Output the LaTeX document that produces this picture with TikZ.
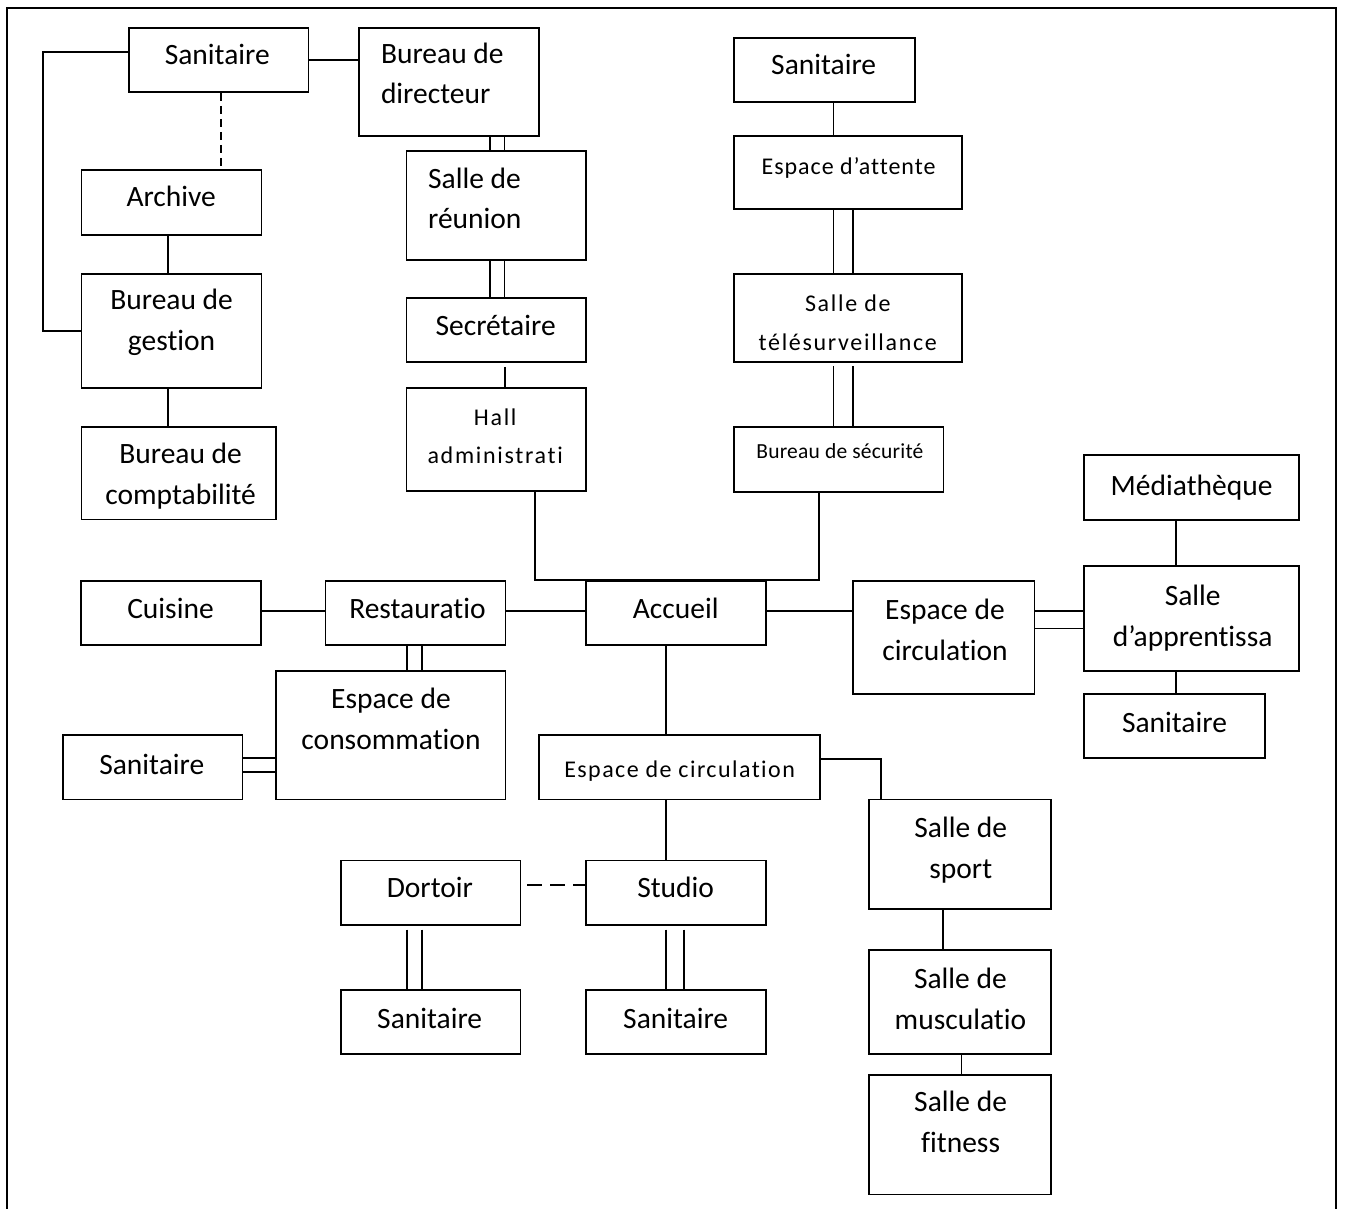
\documentclass[tikz,border=0pt]{standalone}
\usepackage{fontspec}
\setmainfont{Carlito}[Ligatures=NoCommon]
\usetikzlibrary{fit}
\newcommand\room[5]{\coordinate (#1-a) at (#2,#3); \coordinate (#1-b) at (#4,#5); \node[box, fit=(#1-a)(#1-b)] (#1) {};}
\begin{document}
\begin{tikzpicture}[x=1pt,y=-1pt,
  box/.style={draw, line width=1.8pt, inner sep=0pt},
  ln/.style={line width=1.8pt},
  txt/.style={inner sep=0pt, align=center, anchor=base, font=\fontsize{29.5}{41}\selectfont},
  ltxt/.style={inner sep=0pt, align=left, anchor=base west, font=\fontsize{29.5}{40}\selectfont},
  stxt/.style={inner sep=0pt, align=center, anchor=base, font=\fontsize{24}{37.5}\selectfont\addfontfeatures{LetterSpace=#1}}]
\useasboundingbox (0,0) rectangle (1345,1209);
\draw[line width=1.6pt] (7,1212) -- (7,8) -- (1336,8) -- (1336,1212);
% boxes
\room{san1}{128.6}{27.7}{308.4}{92}
\room{bdir}{359}{27.7}{538.8}{136}
\room{archive}{81.5}{170}{261.4}{235}
\room{gestion}{81.5}{274}{261.4}{387.7}
\room{compta}{81.5}{426.7}{276.3}{519.5}
\room{reunion}{406.4}{151.3}{585.9}{259.7}
\room{secretaire}{406.4}{297.7}{585.9}{362}
\room{hall}{406.4}{387.7}{585.9}{491}
\room{san2}{734}{37.7}{914.8}{101.7}
\room{attente}{734}{136.3}{961.7}{209.3}
\room{tele}{734}{274}{961.7}{362}
\room{securite}{734}{426.7}{943.5}{491.7}
\room{media}{1084}{455}{1298.6}{520}
\room{cuisine}{81.3}{581}{261.2}{645.2}
\room{resto}{325.4}{581}{505.4}{645.2}
\room{accueil}{585.7}{581}{765.6}{645.2}
\room{circr}{853}{581}{1034.4}{694}
\room{appr}{1084.2}{566.1}{1298.8}{670.7}
\room{san3}{1084.2}{694}{1265.1}{758.1}
\room{conso}{275.9}{670.7}{505.4}{799.4}
\room{san4}{62.9}{735.3}{242.4}{799.4}
\room{circb}{538.8}{735.3}{820.3}{799.4}
\room{sport}{869.3}{799.4}{1050.6}{908.8}
\room{dortoir}{341}{860.5}{520.5}{924.7}
\room{studio}{585.7}{860.5}{765.6}{924.7}
\room{san5}{341}{989.7}{520.5}{1054.3}
\room{san6}{585.7}{989.7}{765.6}{1054.3}
\room{musc}{869.3}{950.1}{1050.6}{1054.3}
\room{fitness}{869.3}{1074.9}{1050.6}{1194.4}
% texts (anchor=base is the baseline of the last line)
\node[txt] (san1-t) at (217.3,65) {Sanitaire};
\node[ltxt] (bdir-t) at (380.8,104) {Bureau de\\directeur};
\node[txt] (archive-t) at (171.2,206.7) {Archive};
\node[txt] (gestion-t) at (171.6,350.7) {Bureau de\\gestion};
\node[txt] (compta-t) at (180.6,504.3) {Bureau de\\comptabilité};
\node[ltxt] (reunion-t) at (427.9,228.3) {Salle de\\réunion};
\node[txt] (secretaire-t) at (495.6,335) {Secrétaire};
\node[stxt=7] (hall-t) at (495.2,463.3) {Hall\\administrati};
\node[txt] (san2-t) at (823.7,75) {Sanitaire};
\node[stxt=4] (attente-t) at (848.6,175) {Espace d’attente};
\node[stxt=7, font=\fontsize{24}{38.5}\selectfont\addfontfeatures{LetterSpace=7}] (tele-t) at (847.8,350) {Salle de\\télésurveillance};
\node[inner sep=0pt, anchor=base, font=\fontsize{21.5}{25}\selectfont\addfontfeatures{LetterSpace=1}] (securite-t) at (839.9,458.3) {Bureau de sécurité};
\node[txt] (media-t) at (1191.6,495) {Médiathèque};
\node[txt] (cuisine-t) at (170.5,618.9) {Cuisine};
\node[txt] (resto-t) at (417.4,618.9) {Restauratio};
\node[txt] (accueil-t) at (675.7,618.9) {Accueil};
\node[txt] (circr-t) at (945,660.6) {Espace de\\circulation};
\node[txt] (appr-t) at (1192.7,646.1) {Salle\\d’apprentissa};
\node[txt] (san3-t) at (1174.5,732.2) {Sanitaire};
\node[txt] (conso-t) at (391,749.8) {Espace de\\consommation};
\node[txt] (san4-t) at (151.8,774) {Sanitaire};
\node[stxt=6] (circb-t) at (679.6,777) {Espace de circulation};
\node[txt] (sport-t) at (960.8,878.1) {Salle de\\sport};
\node[txt] (dortoir-t) at (429.9,897.9) {Dortoir};
\node[txt] (studio-t) at (675.7,897.9) {Studio};
\node[txt] (san5-t) at (429.7,1028.4) {Sanitaire};
\node[txt] (san6-t) at (675.7,1028.4) {Sanitaire};
\node[txt] (musc-t) at (960.4,1029.7) {Salle de\\musculatio};
\node[txt] (fitness-t) at (960.6,1152.7) {Salle de\\fitness};
% connectors
\draw[ln] (san1.east) -- (san1.east -| bdir.west);
\draw[ln] (san1.west |- 0,52) -- (43,52) |- (gestion.west |- 0,331);
\draw[ln, dash pattern=on 8pt off 5pt] (san1.south -| 221,0) -- (archive.north -| 221,0);
\draw[ln] (archive.south -| 168,0) -- (gestion.north -| 168,0);
\draw[ln] (gestion.south -| 168,0) -- (compta.north -| 168,0);
\foreach \x in {490,504.5} {
  \draw[ln] (bdir.south -| \x,0) -- (reunion.north -| \x,0);
  \draw[ln] (reunion.south -| \x,0) -- (secretaire.north -| \x,0);}
\draw[ln] ([yshift=-4pt]secretaire.south -| 505,0) -- (hall.north -| 505,0);
\draw[ln] (hall.south -| 535,0) -- (accueil.north -| 535,0) -- (accueil.north -| 819,0) -- (securite.south -| 819,0);
\draw[ln] (san2.south -| 833.5,0) -- (attente.north -| 833.5,0);
\foreach \x in {833.5,852.6} {
  \draw[ln] (attente.south -| \x,0) -- (tele.north -| \x,0);
  \draw[ln] ([yshift=-3.5pt]tele.south -| \x,0) -- (securite.north -| \x,0);}
\draw[ln] (cuisine.east |- 0,611) -- (resto.west |- 0,611);
\draw[ln] (resto.east |- 0,611) -- (accueil.west |- 0,611);
\draw[ln] (accueil.east |- 0,611) -- (circr.west |- 0,611);
\foreach \y in {611,628.5} \draw[ln] (circr.east |- 0,\y) -- (appr.west |- 0,\y);
\draw[ln] (media.south -| 1176,0) -- (appr.north -| 1176,0);
\draw[ln] (appr.south -| 1176,0) -- (san3.north -| 1176,0);
\foreach \x in {406.7,422} \draw[ln] (resto.south -| \x,0) -- (conso.north -| \x,0);
\foreach \y in {758,772} \draw[ln] (san4.east |- 0,\y) -- (conso.west |- 0,\y);
\draw[ln] (accueil.south -| 666,0) -- (circb.north -| 666,0);
\draw[ln] (circb.south -| 666,0) -- (studio.north -| 666,0);
\draw[ln] (circb.east |- 0,758.6) -| (sport.north -| 881,0);
\draw[ln, dash pattern=on 15pt off 8pt, dash phase=17pt] (dortoir.east |- 0,885) -- (studio.west |- 0,885);
\foreach \x in {406.7,422} \draw[ln] ([yshift=-4pt]dortoir.south -| \x,0) -- (san5.north -| \x,0);
\foreach \x in {666,684} \draw[ln] ([yshift=-4pt]studio.south -| \x,0) -- (san6.north -| \x,0);
\draw[ln] (sport.south -| 942.7,0) -- (musc.north -| 942.7,0);
\draw[ln] (musc.south -| 961.4,0) -- (fitness.north -| 961.4,0);
\end{tikzpicture}
\end{document}
